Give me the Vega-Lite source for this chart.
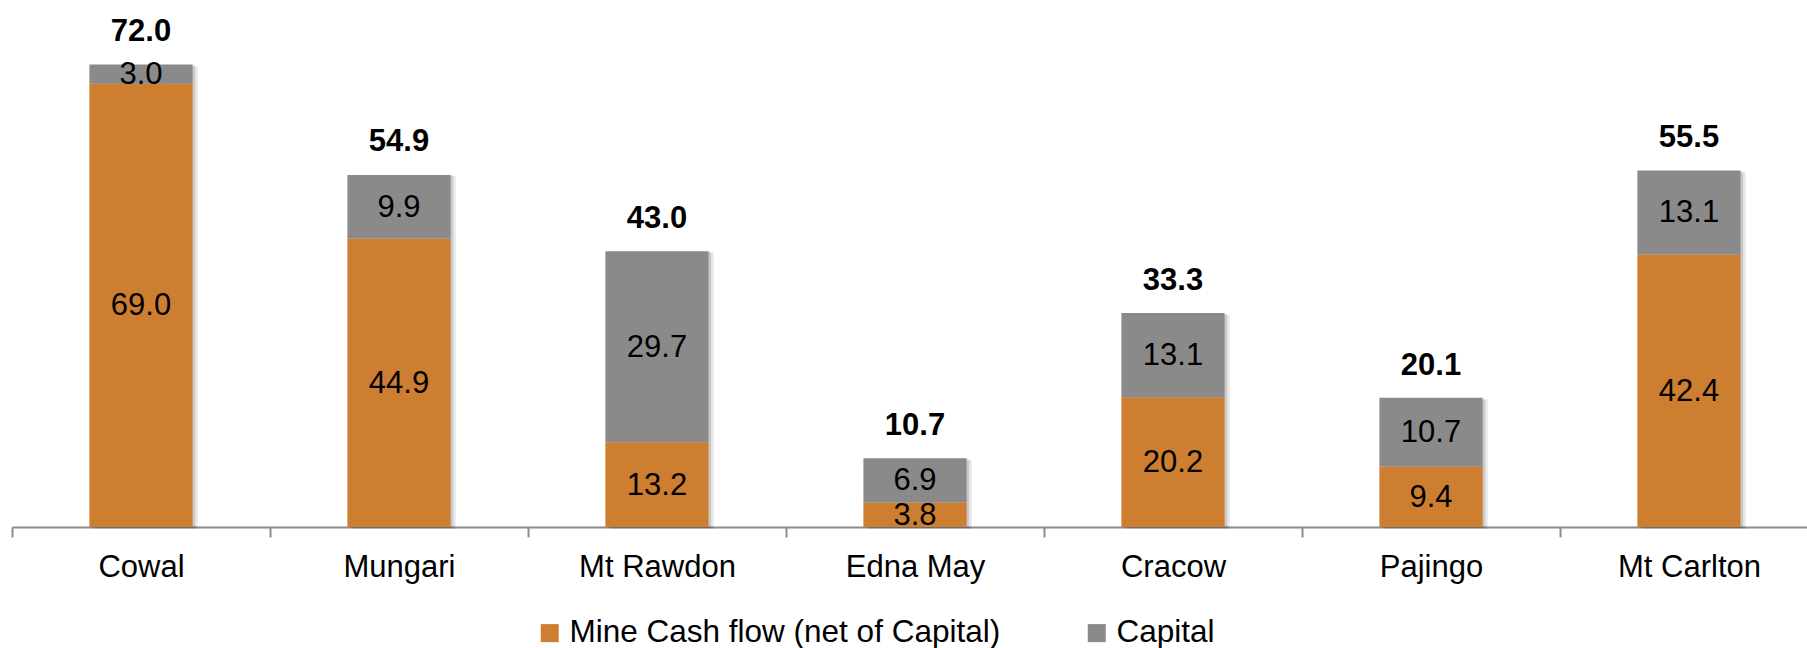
{
  "$schema": "https://vega.github.io/schema/vega-lite/v6.json",
  "width": 1806,
  "height": 514,
  "autosize": {"type": "none"},
  "padding": {"left": 12, "top": 13, "right": 0, "bottom": 121},
  "background": "white",
  "config": {
    "view": {"stroke": null},
    "font": "Liberation Sans",
    "axisX": {
      "title": null,
      "labelAngle": 0,
      "labelFont": "Liberation Sans",
      "labelFontSize": 31,
      "labelColor": "#000000",
      "labelPadding": 15,
      "tickSize": 10,
      "tickWidth": 2,
      "tickColor": "#8c8c8c",
      "domainColor": "#8c8c8c",
      "domainWidth": 2,
      "tickBand": "extent",
      "grid": false
    }
  },
  "datasets": {
    "parts": [
      {"mine": "Cowal", "series": "Mine Cash flow (net of Capital)", "k": 1, "value": 69.0},
      {"mine": "Cowal", "series": "Capital", "k": 2, "value": 3.0},
      {"mine": "Mungari", "series": "Mine Cash flow (net of Capital)", "k": 1, "value": 44.9},
      {"mine": "Mungari", "series": "Capital", "k": 2, "value": 9.9},
      {"mine": "Mt Rawdon", "series": "Mine Cash flow (net of Capital)", "k": 1, "value": 13.2},
      {"mine": "Mt Rawdon", "series": "Capital", "k": 2, "value": 29.7},
      {"mine": "Edna May", "series": "Mine Cash flow (net of Capital)", "k": 1, "value": 3.8},
      {"mine": "Edna May", "series": "Capital", "k": 2, "value": 6.9},
      {"mine": "Cracow", "series": "Mine Cash flow (net of Capital)", "k": 1, "value": 20.2},
      {"mine": "Cracow", "series": "Capital", "k": 2, "value": 13.1},
      {"mine": "Pajingo", "series": "Mine Cash flow (net of Capital)", "k": 1, "value": 9.4},
      {"mine": "Pajingo", "series": "Capital", "k": 2, "value": 10.7},
      {"mine": "Mt Carlton", "series": "Mine Cash flow (net of Capital)", "k": 1, "value": 42.4},
      {"mine": "Mt Carlton", "series": "Capital", "k": 2, "value": 13.1}
    ],
    "totals": [
      {"mine": "Cowal", "total": 72.0},
      {"mine": "Mungari", "total": 54.9},
      {"mine": "Mt Rawdon", "total": 43.0},
      {"mine": "Edna May", "total": 10.7},
      {"mine": "Cracow", "total": 33.3},
      {"mine": "Pajingo", "total": 20.1},
      {"mine": "Mt Carlton", "total": 55.5}
    ]
  },
  "layer": [
    {
      "data": {"name": "totals"},
      "mark": {"type": "bar", "color": "#000000", "opacity": 0.1, "xOffset": 5, "yOffset": 2, "width": {"band": 0.4}},
      "encoding": {
        "x": {"field": "mine", "type": "nominal", "sort": ["Cowal", "Mungari", "Mt Rawdon", "Edna May", "Cracow", "Pajingo", "Mt Carlton"], "scale": {"paddingInner": 0, "paddingOuter": 0}},
        "y": {"field": "total", "type": "quantitative", "scale": {"domain": [0, 80]}, "axis": null}
      }
    },
    {
      "data": {"name": "totals"},
      "mark": {"type": "bar", "color": "#000000", "opacity": 0.12, "xOffset": 2.5, "yOffset": 1, "width": {"band": 0.4}},
      "encoding": {
        "x": {"field": "mine", "type": "nominal", "sort": ["Cowal", "Mungari", "Mt Rawdon", "Edna May", "Cracow", "Pajingo", "Mt Carlton"]},
        "y": {"field": "total", "type": "quantitative"}
      }
    },
    {
      "data": {"name": "parts"},
      "mark": {"type": "bar", "width": {"band": 0.4}},
      "encoding": {
        "x": {"field": "mine", "type": "nominal", "sort": ["Cowal", "Mungari", "Mt Rawdon", "Edna May", "Cracow", "Pajingo", "Mt Carlton"]},
        "y": {"field": "value", "type": "quantitative", "stack": "zero"},
        "order": {"field": "k", "type": "quantitative", "sort": "ascending"},
        "color": {
          "field": "series",
          "type": "nominal",
          "scale": {"domain": ["Mine Cash flow (net of Capital)", "Capital"], "range": ["#CE7E31", "#8A8A8A"]},
          "legend": {
            "orient": "none",
            "legendX": 522,
            "legendY": 604,
            "direction": "horizontal",
            "title": null,
            "padding": 0,
            "symbolType": "square",
            "symbolSize": 324,
            "symbolStrokeWidth": 0,
            "symbolOpacity": 1,
            "labelFont": "Liberation Sans",
            "labelFontSize": 31.5,
            "labelColor": "#000000",
            "labelOffset": 4,
            "columnPadding": 80,
            "labelLimit": 1000
          }
        }
      }
    },
    {
      "data": {"name": "parts"},
      "transform": [
        {"stack": "value", "groupby": ["mine"], "sort": [{"field": "k", "order": "ascending"}], "as": ["v0", "v1"]},
        {"fold": ["v0", "v1"], "as": ["edge", "pos"]},
        {"aggregate": [{"op": "mean", "field": "pos", "as": "mid"}, {"op": "max", "field": "value", "as": "value"}], "groupby": ["mine", "series"]}
      ],
      "mark": {"type": "text", "font": "Liberation Sans", "fontSize": 31, "color": "#000000", "baseline": "middle", "align": "center", "dy": 1},
      "encoding": {
        "x": {"field": "mine", "type": "nominal", "sort": ["Cowal", "Mungari", "Mt Rawdon", "Edna May", "Cracow", "Pajingo", "Mt Carlton"]},
        "y": {"field": "mid", "type": "quantitative"},
        "text": {"field": "value", "type": "quantitative", "format": ".1f"}
      }
    },
    {
      "data": {"name": "totals"},
      "mark": {"type": "text", "font": "Liberation Sans", "fontSize": 31, "fontWeight": "bold", "color": "#000000", "baseline": "middle", "align": "center", "dy": -32},
      "encoding": {
        "x": {"field": "mine", "type": "nominal", "sort": ["Cowal", "Mungari", "Mt Rawdon", "Edna May", "Cracow", "Pajingo", "Mt Carlton"]},
        "y": {"field": "total", "type": "quantitative"},
        "text": {"field": "total", "type": "quantitative", "format": ".1f"}
      }
    }
  ]
}
